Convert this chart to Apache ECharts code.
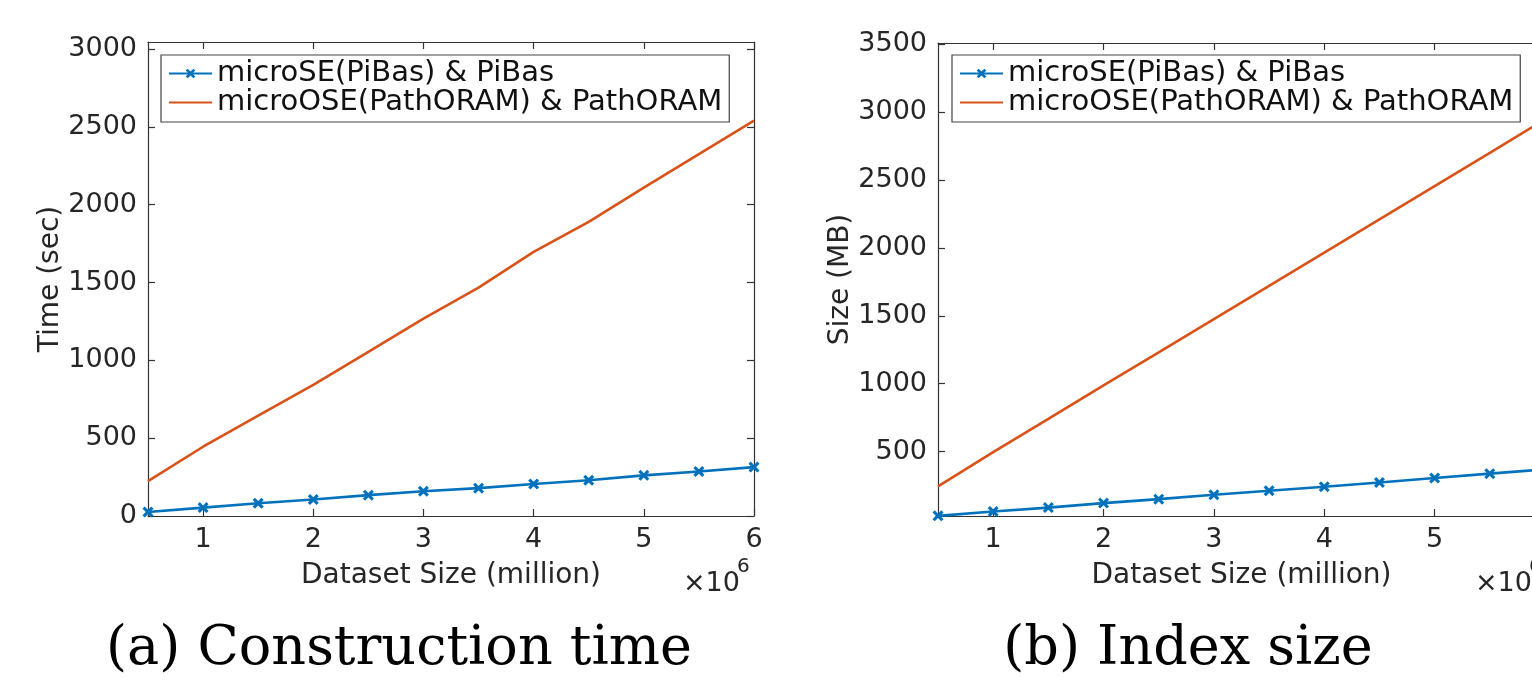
<!DOCTYPE html>
<html>
<head>
<meta charset="utf-8">
<script src="https://cdn.jsdelivr.net/npm/echarts@6/dist/echarts.min.js"></script>
<style>
html,body{margin:0;padding:0;background:#fff;}
#chart{width:1532px;height:687px;}
</style>
</head>
<body>
<div id="chart"></div>
<script>
// ---- data (x in millions, as drawn on the ×10^6 axis) ----
const xValues = [0.5, 1, 1.5, 2, 2.5, 3, 3.5, 4, 4.5, 5, 5.5, 6];
const timePiBas = [26, 54, 82, 106, 134, 159, 179, 206, 230, 261, 286, 314];
const timePathORAM = [224, 445, 645, 843, 1055, 1268, 1467, 1697, 1890, 2110, 2325, 2540];
const sizePiBas = [26, 58, 87, 120, 149, 181, 211, 240, 272, 305, 337, 369];
const sizePathORAM = [243, 495, 740, 987, 1230, 1475, 1720, 1965, 2210, 2455, 2700, 2948];
const xTicks = [1, 2, 3, 4, 5, 6];
const yTicksTime = [0, 500, 1000, 1500, 2000, 2500, 3000];
const yTicksSize = [500, 1000, 1500, 2000, 2500, 3000, 3500];
const seriesNames = ['microSE(PiBas) & PiBas', 'microOSE(PathORAM) & PathORAM'];
const captions = ['(a) Construction time', '(b) Index size'];
const yNames = ['Time (sec)', 'Size (MB)'];
const xName = 'Dataset Size (million)';

const BLUE = '#0072BD', ORANGE = '#D95319', AX = '#333333', TXT = '#262626';
const FONT = 'DejaVu Sans';
const XMARK = 'path://M0,2 L2,0 L5,3 L8,0 L10,2 L7,5 L10,8 L8,10 L5,7 L2,10 L0,8 L3,5 Z';

const pairs = (ys) => xValues.map((x, i) => [x, ys[i]]);
const plain = (v) => String(v);

function xAx(gridIndex, pos, showLabel, showName) {
  return {
    type: 'value', gridIndex, position: pos, min: 0.5, max: 6,
    axisLine: { show: true, onZero: false, lineStyle: { color: AX, width: 1.2 } },
    axisTick: { show: true, inside: true, length: 7, customValues: xTicks, lineStyle: { color: AX, width: 1.2 } },
    axisLabel: { show: showLabel, customValues: xTicks, formatter: plain, margin: 10, color: TXT, fontFamily: FONT, fontSize: 27 },
    splitLine: { show: false },
    name: showName ? xName : '', nameLocation: 'middle', nameGap: 46,
    nameTextStyle: { color: TXT, fontFamily: FONT, fontSize: 28 }
  };
}
function yAx(gridIndex, pos, min, max, ticks, showLabel, name) {
  return {
    type: 'value', gridIndex, position: pos, min, max,
    axisLine: { show: true, onZero: false, lineStyle: { color: AX, width: 1.2 } },
    axisTick: { show: true, inside: true, length: 7, customValues: ticks, lineStyle: { color: AX, width: 1.2 } },
    axisLabel: { show: showLabel, customValues: ticks, formatter: plain, margin: 11, color: TXT, fontFamily: FONT, fontSize: 27 },
    splitLine: { show: false },
    name: name || '', nameLocation: 'middle', nameGap: 79,
    nameTextStyle: { color: TXT, fontFamily: FONT, fontSize: 28 }
  };
}
function legend(left) {
  return {
    orient: 'vertical', left, top: 55,
    data: [{ name: seriesNames[0] }, { name: seriesNames[1], itemStyle: { opacity: 0 } }],
    itemWidth: 43, itemHeight: 12, itemGap: 0,
    padding: [4, 7, 5, 7],
    borderColor: '#444', borderWidth: 1.2, backgroundColor: '#fff',
    textStyle: { color: '#111', fontFamily: FONT, fontSize: 29, lineHeight: 28 },
    selectedMode: false
  };
}
function piBas(xi, yi, data) {
  return {
    name: seriesNames[0], type: 'line', xAxisIndex: xi, yAxisIndex: yi, data,
    symbol: XMARK, symbolSize: 11, showSymbol: true,
    lineStyle: { color: BLUE, width: 2.6 }, itemStyle: { color: BLUE },
    animation: false, z: 3
  };
}
function pathOram(xi, yi, data) {
  return {
    name: seriesNames[1], type: 'line', xAxisIndex: xi, yAxisIndex: yi, data,
    symbol: 'none', showSymbol: false,
    lineStyle: { color: ORANGE, width: 2.6 }, itemStyle: { color: ORANGE },
    animation: false, z: 2
  };
}

const chart = echarts.init(document.getElementById('chart'), null, { renderer: 'canvas' });
chart.setOption({
  backgroundColor: '#fff',
  animation: false,
  grid: [
    { left: 148, top: 42, width: 606, height: 474, outerBoundsMode: 'none', containLabel: false },
    { left: 938, top: 43, width: 607, height: 473, outerBoundsMode: 'none', containLabel: false }
  ],
  xAxis: [
    xAx(0, 'bottom', true, true),
    xAx(0, 'top', false, false),
    xAx(1, 'bottom', true, true),
    xAx(1, 'top', false, false)
  ],
  yAxis: [
    yAx(0, 'left', 0, 3045, yTicksTime, true, yNames[0]),
    yAx(0, 'right', 0, 3045, yTicksTime, false, ''),
    yAx(1, 'left', 25, 3510, yTicksSize, true, yNames[1]),
    yAx(1, 'right', 25, 3510, yTicksSize, false, '')
  ],
  legend: [legend(161), legend(952)],
  series: [
    pathOram(0, 0, pairs(timePathORAM)),
    piBas(0, 0, pairs(timePiBas)),
    pathOram(2, 2, pairs(sizePathORAM)),
    piBas(2, 2, pairs(sizePiBas))
  ],
  graphic: [
    { type: 'text', left: 683, top: 570, style: { text: '×10', fill: TXT, font: '27px "DejaVu Sans"' } },
    { type: 'text', left: 737, top: 557, style: { text: '6', fill: TXT, font: '20px "DejaVu Sans"' } },
    { type: 'text', x: 1475, y: 570, style: { text: '×10', fill: TXT, font: '27px "DejaVu Sans"' } },
    { type: 'text', x: 1529, y: 557, style: { text: '6', fill: TXT, font: '20px "DejaVu Sans"' } },
    { type: 'text', x: 399, y: 650, style: { text: captions[0], fill: '#000', font: '54px "DejaVu Serif"', align: 'center', verticalAlign: 'middle' } },
    { type: 'text', x: 1188, y: 650, style: { text: captions[1], fill: '#000', font: '54px "DejaVu Serif"', align: 'center', verticalAlign: 'middle' } }
  ]
});
</script>
</body>
</html>
